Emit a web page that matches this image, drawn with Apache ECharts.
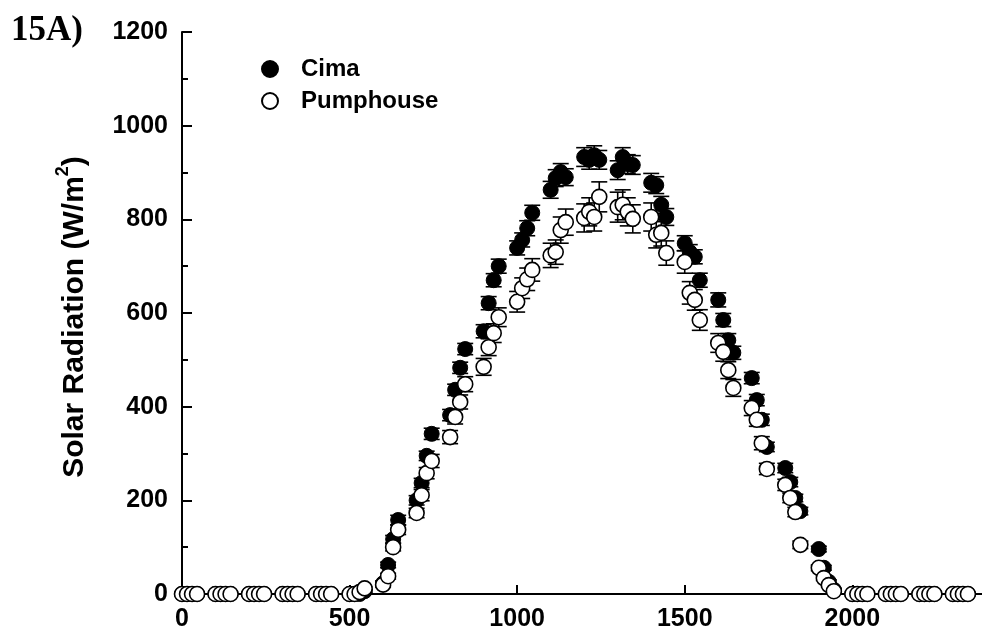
<!DOCTYPE html>
<html>
<head>
<meta charset="utf-8">
<script src="https://cdn.jsdelivr.net/npm/echarts@6/dist/echarts.min.js"></script>
<style>html,body{margin:0;padding:0;background:#fff}#c{width:982px;height:637px}</style>
</head>
<body>
<div id="c"></div>
<script>
// Time of day (HHMM)
const times = [0,15,30,45,100,115,130,145,200,215,230,245,300,315,330,345,400,415,430,445,500,515,530,545,
600,615,630,645,700,715,730,745,800,815,830,845,900,915,930,945,1000,1015,1030,1045,1100,1115,1130,1145,
1200,1215,1230,1245,1300,1315,1330,1345,1400,1415,1430,1445,1500,1515,1530,1545,1600,1615,1630,1645,
1700,1715,1730,1745,1800,1815,1830,1845,1900,1915,1930,1945,2000,2015,2030,2045,2100,2115,2130,2145,
2200,2215,2230,2245,2300,2315,2330,2345];

const cima = [0,0,0,0, 0,0,0,0, 0,0,0,0, 0,0,0,0, 0,0,0,0, 0,0,0,6,
23,62,117,158, 200,237,295,342, 382,436,483,523, 561,621,670,700, 739,756,781,814, 863,888,901,890,
933,927,937,927, 905,933,918,916, 878,873,831,805, 749,730,720,670, 628,585,542,515,
461,414,372,314, 269,239,205,177, 96,56,26,9, 0,0,0,0, 0,0,0,0, 0,0,0,0, 0,0,0,0];

const cimaErr = [0,0,0,0, 0,0,0,0, 0,0,0,0, 0,0,0,0, 0,0,0,0, 0,0,0,3,
5,6,8,10, 10,10,10,12, 12,12,12,12, 14,14,14,15, 15,15,16,16, 18,18,18,18,
20,20,20,20, 20,20,20,20, 20,18,18,18, 16,16,15,15, 15,14,14,14,
12,12,12,10, 10,10,8,8, 6,5,4,3, 0,0,0,0, 0,0,0,0, 0,0,0,0, 0,0,0,0];

const pumphouse = [0,0,0,0, 0,0,0,0, 0,0,0,0, 0,0,0,0, 0,0,0,0, 0,0,4,12,
20,38,100,137, 173,211,258,284, 335,378,410,448, 485,527,557,591, 624,653,672,692, 723,730,777,794,
803,816,805,848, 826,831,816,801, 805,767,771,728, 709,643,628,585, 536,517,478,440,
397,372,322,267, 233,205,175,105, 56,34,19,6, 0,0,0,0, 0,0,0,0, 0,0,0,0, 0,0,0,0];

const pumphouseErr = [0,0,0,0, 0,0,0,0, 0,0,0,0, 0,0,0,0, 0,0,0,0, 0,0,0,3,
5,6,8,10, 10,12,12,14, 14,15,15,16, 18,18,20,20, 22,22,24,24, 26,26,28,28,
30,30,30,32, 32,32,30,30, 30,28,28,26, 24,24,22,22, 20,20,18,18,
16,14,14,12, 12,10,10,8, 6,5,4,3, 0,0,0,0, 0,0,0,0, 0,0,0,0, 0,0,0,0];

const xTicks = [0,500,1000,1500,2000];

const FONT = '"Liberation Sans", Arial, sans-serif';

function errRender(params, api) {
  const x = api.value(0), y = api.value(1), e = api.value(2);
  if (!e) return null;
  const top = api.coord([x, y + e]);
  const bot = api.coord([x, y - e]);
  const hw = 8;
  const st = {stroke: '#000', lineWidth: 1.6};
  return {type: 'group', children: [
    {type: 'line', shape: {x1: top[0], y1: top[1], x2: bot[0], y2: bot[1]}, style: st},
    {type: 'line', shape: {x1: top[0] - hw, y1: top[1], x2: top[0] + hw, y2: top[1]}, style: st},
    {type: 'line', shape: {x1: bot[0] - hw, y1: bot[1], x2: bot[0] + hw, y2: bot[1]}, style: st}
  ]};
}

const plain = v => String(v);

const chart = echarts.init(document.getElementById('c'), null, {renderer: 'canvas'});
chart.setOption({
  animation: false,
  backgroundColor: '#fff',
  grid: {left: 182, right: 0, top: 32, bottom: 43, containLabel: false},
  xAxis: {
    type: 'value', min: 0, max: 2387, interval: 500,
    axisLine: {lineStyle: {color: '#000', width: 2}},
    axisTick: {inside: true, length: 9, lineStyle: {color: '#000', width: 2}, customValues: xTicks},
    axisLabel: {customValues: xTicks, formatter: plain, color: '#000', fontSize: 25, fontWeight: 'bold', fontFamily: FONT, margin: 13},
    splitLine: {show: false}
  },
  yAxis: {
    type: 'value', min: 0, max: 1200, interval: 200,
    axisLine: {show: true, lineStyle: {color: '#000', width: 2}},
    axisTick: {show: true, inside: true, length: 10, lineStyle: {color: '#000', width: 2}},
    minorTick: {show: true, splitNumber: 2, length: 6, lineStyle: {color: '#000', width: 2}},
    axisLabel: {formatter: plain, color: '#000', fontSize: 25, fontWeight: 'bold', fontFamily: FONT, margin: 14},
    splitLine: {show: false}
  },
  legend: {
    data: ['Cima', 'Pumphouse'],
    orient: 'vertical', left: 256, top: 52,
    itemWidth: 16, itemHeight: 16, itemGap: 8,
    textStyle: {color: '#000', fontSize: 24, fontWeight: 'bold', fontFamily: FONT, padding: [0, 0, 0, 18]}
  },
  graphic: [
    {type: 'text', x: 11, y: 13, style: {text: '15A)', fill: '#000', font: 'bold 35px "Liberation Serif", "Times New Roman", serif'}},
    {type: 'text', x: 72, y: 317, rotation: Math.PI / 2,
     style: {
       text: '{a|Solar Radiation (W/m}{s|2}{a|)}',
       align: 'center', verticalAlign: 'middle',
       rich: {
         a: {fontSize: 30, fontWeight: 'bold', fontFamily: FONT, fill: '#000', lineHeight: 36, verticalAlign: 'bottom'},
         s: {fontSize: 18, fontWeight: 'bold', fontFamily: FONT, fill: '#000', lineHeight: 36, verticalAlign: 'top'}
       }
     }}
  ],
  series: [
    {name: 'CimaErr', type: 'custom', renderItem: errRender, encode: {x: 0, y: 1},
     data: times.map((t, i) => [t, cima[i], cimaErr[i]]), z: 2, silent: true},
    {name: 'Cima', type: 'scatter', symbol: 'circle', symbolSize: 15,
     itemStyle: {color: '#000', borderColor: '#000', borderWidth: 1, opacity: 1},
     data: times.map((t, i) => [t, cima[i]]), z: 3},
    {name: 'PumphouseErr', type: 'custom', renderItem: errRender, encode: {x: 0, y: 1},
     data: times.map((t, i) => [t, pumphouse[i], pumphouseErr[i]]), z: 4, silent: true},
    {name: 'Pumphouse', type: 'scatter', symbol: 'circle', symbolSize: 15,
     itemStyle: {color: '#fff', borderColor: '#000', borderWidth: 1.6, opacity: 1},
     data: times.map((t, i) => [t, pumphouse[i]]), z: 5}
  ]
});
</script>
</body>
</html>
